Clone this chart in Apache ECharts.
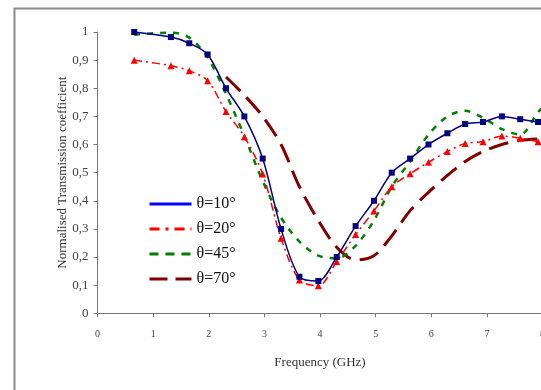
<!DOCTYPE html>
<html>
<head>
<meta charset="utf-8">
<script src="https://cdn.jsdelivr.net/npm/echarts@6/dist/echarts.min.js"></script>
<style>
  html, body { margin: 0; padding: 0; background: #fff; }
  #chart { width: 541px; height: 390px; }
</style>
</head>
<body>
<div id="chart"></div>
<script>
// frequencies (GHz) where the markers sit
const freq = [0.66, 1.32, 1.65, 1.98, 2.31, 2.64, 2.97, 3.30, 3.63, 3.97, 4.30, 4.64, 4.97, 5.29, 5.62, 5.95, 6.29, 6.61, 6.93, 7.27, 7.60, 7.92];
const theta10 = [1.0, 0.982, 0.96, 0.92, 0.80, 0.70, 0.55, 0.30, 0.13, 0.115, 0.20, 0.31, 0.40, 0.50, 0.55, 0.60, 0.64, 0.673, 0.68, 0.70, 0.69, 0.68];
const theta20 = [0.90, 0.88, 0.862, 0.827, 0.717, 0.628, 0.495, 0.267, 0.118, 0.098, 0.184, 0.28, 0.364, 0.45, 0.496, 0.537, 0.575, 0.604, 0.61, 0.63, 0.622, 0.61];
// 45 deg curve runs to the right edge
const freq45 = [0.66, 1.32, 1.65, 1.98, 2.31, 2.64, 2.97, 3.30, 3.63, 3.97, 4.30, 4.64, 4.97, 5.29, 5.62, 5.95, 6.29, 6.61, 6.93, 7.27, 7.60, 7.92, 8.0];
const theta45 = [0.99, 0.998, 0.98, 0.91, 0.78, 0.63, 0.47, 0.34, 0.255, 0.205, 0.195, 0.24, 0.33, 0.45, 0.54, 0.635, 0.70, 0.72, 0.695, 0.655, 0.635, 0.715, 0.73];
// 70 deg curve only starts around 2.3 GHz
const freq70 = [2.31, 2.64, 2.97, 3.30, 3.63, 3.97, 4.30, 4.64, 4.97, 5.29, 5.62, 5.95, 6.29, 6.61, 6.93, 7.27, 7.60, 7.92];
const theta70 = [0.84, 0.775, 0.70, 0.60, 0.45, 0.33, 0.235, 0.19, 0.205, 0.275, 0.365, 0.43, 0.49, 0.54, 0.575, 0.60, 0.615, 0.62];
const names = ['θ=10°', 'θ=20°', 'θ=45°', 'θ=70°'];

const pairs = (xs, ys) => xs.map((x, i) => [x, ys[i]]);
const serif = '"Liberation Serif", "DejaVu Serif", serif';

const chart = echarts.init(document.getElementById('chart'));
chart.setOption({
  animation: false,
  backgroundColor: '#fff',
  textStyle: { fontFamily: serif },
  graphic: [{
    type: 'rect',
    left: 12, top: 6,
    shape: { width: 620, height: 480 },
    style: { fill: 'none', stroke: '#8a8a8a', lineWidth: 2 },
    silent: true
  }],
  grid: { left: 97.5, top: 32, width: 445, height: 281.3, outerBoundsMode: 'none' },
  legend: {
    orient: 'vertical',
    left: 148, top: 196, padding: 0,
    itemWidth: 42, itemHeight: 14, itemGap: 9,
    textStyle: { fontSize: 16, color: '#111', fontFamily: serif },
    itemStyle: { opacity: 0 },
    data: [
      { name: names[0], lineStyle: { color: '#0000ff', width: 3, type: 'solid' } },
      { name: names[1], lineStyle: { color: '#ff0000', width: 3, type: [10, 6, 3, 6] } },
      { name: names[2], lineStyle: { color: '#008000', width: 3, type: [9, 7] } },
      { name: names[3], lineStyle: { color: '#800000', width: 3, type: [18, 8] } }
    ]
  },
  xAxis: {
    type: 'value', min: 0, max: 8, interval: 1,
    name: 'Frequency (GHz)', nameLocation: 'middle', nameGap: 43,
    nameTextStyle: { fontSize: 13, color: '#333', fontFamily: serif },
    axisLine: { lineStyle: { color: '#777', width: 1 } },
    axisTick: { length: 4, lineStyle: { color: '#777' } },
    axisLabel: { fontSize: 10, color: '#444', margin: 16 },
    splitLine: { show: false }
  },
  yAxis: {
    type: 'value', min: 0, max: 1, interval: 0.1,
    name: 'Normalised Transmission coefficient', nameLocation: 'middle', nameGap: 28,
    nameMoveOverlap: false,
    nameTextStyle: { fontSize: 13, color: '#333', fontFamily: serif },
    axisLine: { show: true, lineStyle: { color: '#777', width: 1 } },
    axisTick: { show: true, length: 4, lineStyle: { color: '#777' } },
    axisLabel: {
      fontSize: 13, color: '#444', margin: 9,
      formatter: v => (Math.round(v * 10) / 10).toString().replace('.', ',')
    },
    splitLine: { show: false }
  },
  series: [
    {
      name: names[3], type: 'line', smooth: 0.3, symbol: 'none',
      data: pairs(freq70, theta70),
      itemStyle: { color: '#800000' },
      lineStyle: { color: '#800000', width: 3, type: [20, 9] }
    },
    {
      name: names[2], type: 'line', smooth: 0.3, symbol: 'none',
      data: pairs(freq45, theta45),
      itemStyle: { color: '#008000' },
      lineStyle: { color: '#008000', width: 2.5, type: [6, 7] }
    },
    {
      name: names[1], type: 'line', smooth: 0.3, symbol: 'triangle', symbolSize: 7,
      data: pairs(freq, theta20),
      itemStyle: { color: '#ff0000' },
      lineStyle: { color: '#ff0000', width: 1.5, type: [8, 4, 2, 4] }
    },
    {
      name: names[0], type: 'line', smooth: 0.3, symbol: 'rect', symbolSize: 6,
      data: pairs(freq, theta10),
      itemStyle: { color: '#000080' },
      lineStyle: { color: '#000080', width: 1.5 }
    }
  ]
});
</script>
</body>
</html>
